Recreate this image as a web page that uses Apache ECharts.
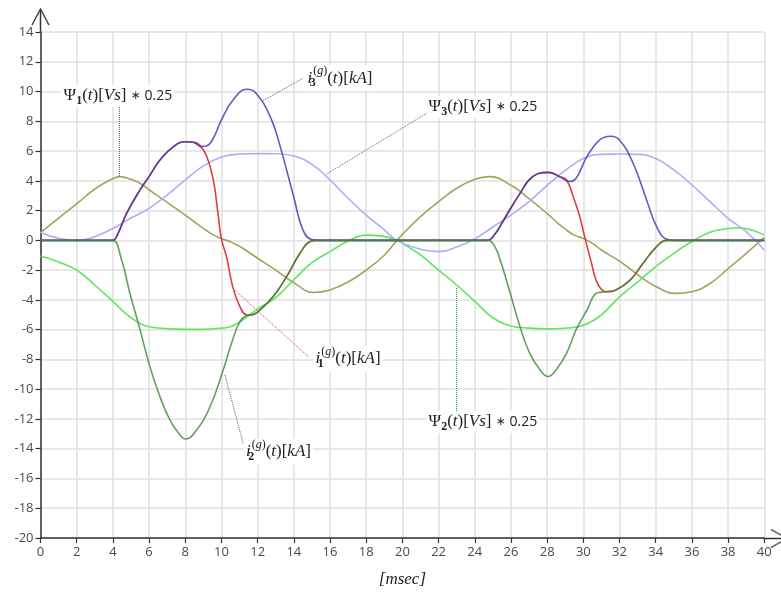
<!DOCTYPE html>
<html>
<head>
<meta charset="utf-8">
<script src="https://cdn.jsdelivr.net/npm/echarts@6/dist/echarts.min.js"></script>
<style>
  html, body { margin: 0; padding: 0; background: #fff; }
  #chart { width: 781px; height: 594px; }
</style>
</head>
<body>
<div id="chart"></div>
<script>
// Time axis tick labels [msec] and current axis tick labels
const xTicks = [0, 2, 4, 6, 8, 10, 12, 14, 16, 18, 20, 22, 24, 26, 28, 30, 32, 34, 36, 38, 40];
const yTicks = [-20, -18, -16, -14, -12, -10, -8, -6, -4, -2, 0, 2, 4, 6, 8, 10, 12, 14];

// Flux linkage Psi1 * 0.25
const psi1T = [0, 1, 2, 3, 4, 4.4, 5, 5.5, 6, 7, 8, 8.5, 9, 9.5, 10, 10.5, 11, 12, 13, 14, 15.1, 16, 17, 18, 19, 19.7, 20, 21, 22, 23, 24, 24.8, 26, 27, 28, 28.5, 29, 29.5, 30, 30.5, 31, 32, 33, 34, 35.1, 36, 37, 38, 39, 40];
const psi1V = [0.52, 1.5, 2.45, 3.45, 4.15, 4.28, 4.1, 3.84, 3.4, 2.55, 1.7, 1.25, 0.8, 0.4, 0.12, -0.1, -0.4, -1.2, -2.0, -2.85, -3.5, -3.33, -2.8, -2.0, -1.0, 0, 0.4, 1.6, 2.6, 3.5, 4.1, 4.28, 3.7, 2.8, 1.8, 1.25, 0.75, 0.35, 0.12, -0.2, -0.65, -1.4, -2.3, -3.1, -3.56, -3.45, -2.9, -1.9, -0.87, 0.2];

// Flux linkage Psi2 * 0.25
const psi2T = [0, 1, 2, 3, 4, 5, 6, 7, 8, 9, 10, 10.5, 11, 11.5, 12, 13, 14, 15, 16, 17, 18, 18.8, 19.7, 20.2, 21, 22, 23, 24, 25, 26, 27, 28, 29, 29.7, 30.3, 31, 32, 33, 34, 35, 36, 37, 38, 38.6, 39.3, 40];
const psi2V = [-1.05, -1.45, -2.0, -3.0, -4.1, -5.2, -5.8, -5.93, -5.98, -5.98, -5.9, -5.8, -5.5, -5.05, -4.6, -3.85, -2.65, -1.5, -0.76, -0.05, 0.35, 0.3, 0, -0.35, -0.98, -2.0, -3.0, -4.1, -5.2, -5.75, -5.9, -5.95, -5.9, -5.8, -5.55, -5.0, -3.8, -2.8, -1.77, -0.87, -0.08, 0.55, 0.8, 0.85, 0.7, 0.36];

// Flux linkage Psi3 * 0.25
const psi3T = [0, 0.5, 1, 1.5, 2, 2.5, 3, 4, 5, 6, 7, 8, 9, 10, 11, 12, 13, 14, 15, 16, 17, 18, 19, 19.7, 21, 22, 23, 24, 25, 26, 27, 28, 29, 30, 31, 32, 33, 34, 35, 36, 37, 38, 39, 40];
const psi3V = [0.52, 0.3, 0.14, 0.04, 0.0, 0.08, 0.25, 0.8, 1.5, 2.15, 3.05, 4.06, 5.0, 5.6, 5.8, 5.83, 5.82, 5.67, 5.1, 4.06, 2.83, 1.7, 0.7, 0, -0.6, -0.76, -0.45, 0.1, 0.9, 1.7, 2.6, 3.7, 4.7, 5.5, 5.78, 5.8, 5.78, 5.5, 4.73, 3.72, 2.6, 1.48, 0.58, -0.65];

// Phase current i3 [kA]
const i3T = [0, 3.6, 4.0, 4.3, 4.76, 5.5, 6, 6.6, 7.3, 8, 8.45, 8.9, 9.2, 9.55, 10, 10.65, 11.4, 11.9, 12.7, 13.2, 14, 14.5, 15, 15.5, 16, 24.3, 24.7, 25.1, 25.6, 26.5, 27.2, 28.05, 28.7, 29.25, 29.6, 30.2, 30.9, 31.5, 32, 32.75, 33.5, 34.05, 34.6, 35, 35.5, 40];
const i3V = [0, 0, 0, 0.5, 1.82, 3.39, 4.28, 5.4, 6.25, 6.63, 6.59, 6.3, 6.35, 6.86, 8.1, 9.44, 10.15, 9.9, 8.3, 6.5, 2.9, 0.7, 0.05, 0, 0, 0, 0, 0.4, 1.37, 3.16, 4.28, 4.57, 4.28, 3.95, 4.17, 5.63, 6.75, 7.0, 6.75, 5.18, 2.7, 0.92, 0.07, 0, 0, 0];

// Phase current i1 [kA]
const i1T = [0, 3.6, 4.0, 4.3, 4.76, 5.5, 6, 6.6, 7.3, 8, 8.45, 8.8, 9.2, 9.55, 9.8, 10.0, 10.3, 10.6, 11.0, 11.4, 11.7, 12.13, 12.86, 13.6, 14.34, 14.9, 15.3, 16, 24.3, 24.7, 25.1, 25.6, 26.5, 27.2, 28.05, 28.7, 29.07, 29.44, 29.8, 30.08, 30.45, 30.7, 31.0, 31.3, 31.8, 32.6, 33.3, 34.05, 34.6, 35, 35.5, 40];
const i1V = [0, 0, 0, 0.5, 1.82, 3.39, 4.28, 5.4, 6.25, 6.63, 6.59, 6.4, 5.6, 4.06, 1.9, 0.1, -1.2, -3.0, -4.4, -5.0, -5.0, -4.68, -3.78, -2.44, -0.87, -0.08, 0, 0, 0, 0, 0.4, 1.37, 3.16, 4.28, 4.57, 4.28, 4.06, 2.94, 1.6, 0.2, -1.54, -2.66, -3.3, -3.45, -3.33, -2.66, -1.54, -0.42, 0, 0, 0, 0];

// Phase current i2 [kA]
const i2T = [0, 3.6, 4.0, 4.48, 4.94, 5.5, 6.05, 6.6, 7.15, 7.6, 8.02, 8.63, 9.36, 10.1, 10.56, 11.02, 11.4, 11.7, 12.13, 12.86, 13.6, 14.34, 14.9, 15.3, 16, 24.3, 24.75, 25.1, 25.4, 25.9, 26.5, 27.04, 27.6, 28.06, 28.5, 29.07, 29.6, 30.2, 30.7, 31.0, 31.3, 31.8, 32.6, 33.3, 34.05, 34.6, 35, 35.5, 40];
const i2V = [0, 0, 0, -1.3, -3.55, -6.0, -8.5, -10.5, -12.07, -12.9, -13.35, -12.74, -11.2, -8.7, -6.9, -5.46, -5.05, -5.0, -4.68, -3.78, -2.44, -0.87, -0.08, 0, 0, 0, 0, -0.4, -1.3, -3.3, -5.8, -7.6, -8.7, -9.15, -8.7, -7.6, -6.0, -4.68, -3.56, -3.48, -3.45, -3.33, -2.66, -1.54, -0.42, 0, 0, 0, 0];

function pairs(t, v) { return t.map((x, k) => [x, v[k]]); }

const serifFont = 'Liberation Serif';
const rich = {
  u:   { fontFamily: serifFont, fontSize: 17, color: '#222' },
  it:  { fontFamily: serifFont, fontSize: 17, fontStyle: 'italic', color: '#222' },
  sb:  { fontFamily: serifFont, fontSize: 12, fontWeight: 'bold', color: '#222', padding: [10, 0, 0, 0] },
  sbs: { fontFamily: serifFont, fontSize: 12, fontWeight: 'bold', color: '#222', padding: [10, 0, 0, 0], width: 1 },
  sp:  { fontFamily: serifFont, fontSize: 12, color: '#222', padding: [0, 0, 14, 0] },
  spi: { fontFamily: serifFont, fontSize: 12, fontStyle: 'italic', color: '#222', padding: [0, 0, 14, 0] },
  op:  { fontFamily: 'DejaVu Sans', fontSize: 12, color: '#222', padding: [0, 4, 0, 4] },
  n:   { fontFamily: 'Open Sans', fontSize: 14, color: '#222' }
};

function psiText(k) {
  return '{u|Ψ}{sb|' + k + '}{u|(}{it|t}{u|)[}{it|Vs}{u|]}{op|∗}{n|0.25}';
}
function curText(k) {
  return '{it|i}{sbs|' + k + '}{sp|(}{spi|g}{sp|)}{u|(}{it|t}{u|)[}{it|kA}{u|]}';
}

// Annotation: dotted leader from a curve point to a text label
function note(text, at, from, to, color) {
  return {
    markLine: {
      silent: true, animation: false, symbol: ['none', 'none'],
      label: { show: false },
      lineStyle: { type: 'dotted', width: 1, color: color },
      emphasis: { disabled: true },
      data: [[{ coord: from }, { coord: to }]]
    },
    markPoint: {
      silent: true, animation: false, symbol: 'rect', symbolSize: 0,
      label: {
        show: true, position: 'inside', formatter: text, rich: rich,
        backgroundColor: '#fff', padding: [0, 2]
      },
      data: [{ coord: at }]
    }
  };
}

function lineSeries(name, t, v, color, opacity, z, extra) {
  return Object.assign({
    name: name, type: 'line', data: pairs(t, v), smooth: 0.45,
    showSymbol: false, symbol: 'none', animation: false, z: z,
    lineStyle: { color: color, width: 1.6, opacity: opacity },
    emphasis: { disabled: true }
  }, extra || {});
}

const chart = echarts.init(document.getElementById('chart'), null, { renderer: 'canvas' });

const axisLabelStyle = { fontFamily: 'Open Sans', fontSize: 13, color: '#4a4a4a' };

chart.setOption({
  backgroundColor: '#fff',
  animation: false,
  grid: { left: 40.5, right: 16.7, top: 32, bottom: 56, containLabel: false },
  xAxis: {
    type: 'value', min: xTicks[0], max: xTicks[xTicks.length - 1], interval: 2,
    name: '[msec]', nameLocation: 'middle', nameGap: 33,
    nameTextStyle: { fontFamily: serifFont, fontStyle: 'italic', fontSize: 17, color: '#222' },
    axisLine: { show: true, onZero: false, lineStyle: { color: '#333', width: 1.5 } },
    axisTick: { show: true, inside: false, length: 5, lineStyle: { color: '#333', width: 1.2 } },
    axisLabel: Object.assign({ margin: 8 }, axisLabelStyle),
    splitLine: { show: true, lineStyle: { color: '#e0e0e0', width: 1.5 } }
  },
  yAxis: {
    type: 'value', min: yTicks[0], max: yTicks[yTicks.length - 1], interval: 2,
    axisLine: { show: true, onZero: false, lineStyle: { color: '#333', width: 1.5 } },
    axisTick: { show: true, inside: false, length: 5, lineStyle: { color: '#333', width: 1.2 } },
    axisLabel: Object.assign({ margin: 7 }, axisLabelStyle),
    splitLine: { show: true, lineStyle: { color: '#e0e0e0', width: 1.5 } }
  },
  graphic: [
    { type: 'line', shape: { x1: 40.5, y1: 33, x2: 40.5, y2: 9 }, style: { stroke: '#333', lineWidth: 1.5 } },
    { type: 'polyline', shape: { points: [[32, 25], [40.5, 9], [49, 25]] }, style: { stroke: '#444', lineWidth: 1.5, fill: null } },
    { type: 'line', shape: { x1: 763, y1: 538.5, x2: 781, y2: 538.5 }, style: { stroke: '#333', lineWidth: 1.5 } },
    { type: 'polyline', shape: { points: [[771, 529.5], [787, 538.5], [771, 547.5]] }, style: { stroke: '#666', lineWidth: 1.5, fill: null } }
  ],
  series: [
    lineSeries('psi1', psi1T, psi1V, '#a3a35e', 1, 2,
      note(psiText(1), [4.28, 9.7], [4.34, 4.33], [4.34, 9.2], '#6e6e3a')),
    lineSeries('psi2', psi2T, psi2V, '#5ee65e', 1, 2,
      note(psiText(2), [24.45, -12.2], [22.95, -3.2], [22.95, -11.85], '#1f9a6a')),
    lineSeries('psi3', psi3T, psi3V, '#aeaef2', 1, 2,
      note(psiText(3), [24.45, 8.96], [15.81, 4.45], [21.34, 8.54], '#4a5a9a')),
    lineSeries('i1', i1T, i1V, '#d94040', 1, 3,
      note(curText(1), [17.0, -7.95], [10.75, -3.36], [14.8, -7.82], '#e04040')),
    lineSeries('i3', i3T, i3V, '#3a3ab5', 0.82, 4,
      note(curText(3), [16.55, 10.9], [12.3, 9.39], [14.52, 10.9], '#5050a0')),
    lineSeries('i2', i2T, i2V, '#3a8f3a', 0.82, 4,
      note(curText(2), [13.15, -14.2], [10.19, -9.04], [11.2, -13.64], '#606a30'))
  ]
});
</script>
</body>
</html>
